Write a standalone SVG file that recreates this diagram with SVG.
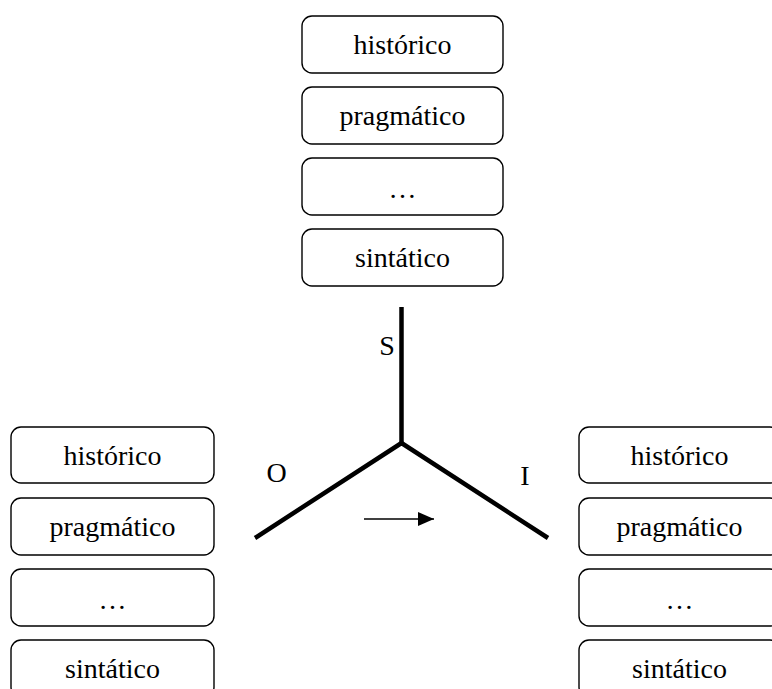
<svg xmlns="http://www.w3.org/2000/svg" width="772" height="689" viewBox="0 0 772 689">
<style>
  .box { fill: #ffffff; stroke: #000000; stroke-width: 1.4; }
  .lbl { font-family: "Liberation Serif", "Times New Roman", serif; font-size: 28px; fill: #000000; text-anchor: middle; }
  .axis { stroke: #000000; stroke-width: 4.5; fill: none; stroke-linecap: butt; stroke-linejoin: miter; }
  .arr { stroke: #000000; stroke-width: 1.6; fill: none; }
</style>
<defs>
  <marker id="head" markerUnits="userSpaceOnUse" markerWidth="16" markerHeight="14" refX="16" refY="7" orient="auto">
    <path d="M0,0 L16,7 L0,14 Z" fill="#000000"/>
  </marker>
</defs>
<rect width="772" height="689" fill="#ffffff"/>

<g id="top-historico"><rect class="box" x="302" y="16" width="201" height="57" rx="10"/><text class="lbl" x="402.5" y="54">histórico</text></g>
<g id="top-pragmatico"><rect class="box" x="302" y="87" width="201" height="57" rx="10"/><text class="lbl" x="402.5" y="125">pragmático</text></g>
<g id="top-dots"><rect class="box" x="302" y="158" width="201" height="57" rx="10"/><text class="lbl" x="402.5" y="198">…</text></g>
<g id="top-sintatico"><rect class="box" x="302" y="229" width="201" height="57" rx="10"/><text class="lbl" x="402.5" y="267">sintático</text></g>

<g id="left-historico"><rect class="box" x="11" y="427" width="203" height="56" rx="10"/><text class="lbl" x="112.5" y="465">histórico</text></g>
<g id="left-pragmatico"><rect class="box" x="11" y="498" width="203" height="57" rx="10"/><text class="lbl" x="112.5" y="536">pragmático</text></g>
<g id="left-dots"><rect class="box" x="11" y="569" width="203" height="57" rx="10"/><text class="lbl" x="112.5" y="609">…</text></g>
<g id="left-sintatico"><rect class="box" x="11" y="640" width="203" height="57" rx="10"/><text class="lbl" x="112.5" y="678">sintático</text></g>

<g id="right-historico"><rect class="box" x="579" y="427" width="201" height="56" rx="10"/><text class="lbl" x="679.5" y="465">histórico</text></g>
<g id="right-pragmatico"><rect class="box" x="579" y="498" width="201" height="57" rx="10"/><text class="lbl" x="679.5" y="536">pragmático</text></g>
<g id="right-dots"><rect class="box" x="579" y="569" width="201" height="57" rx="10"/><text class="lbl" x="679.5" y="609">…</text></g>
<g id="right-sintatico"><rect class="box" x="579" y="640" width="201" height="57" rx="10"/><text class="lbl" x="679.5" y="678">sintático</text></g>

<g id="connectors">
  <line class="axis" x1="401.5" y1="307" x2="401.5" y2="443"/>
  <polyline class="axis" points="255,538 401.5,443 548,538"/>
  <line class="arr" x1="364" y1="519" x2="434" y2="519" marker-end="url(#head)"/>
</g>

<g id="labels">
  <text class="lbl" x="387" y="355">S</text>
  <text class="lbl" x="276.5" y="482">O</text>
  <text class="lbl" x="525" y="485">I</text>
</g>
</svg>
